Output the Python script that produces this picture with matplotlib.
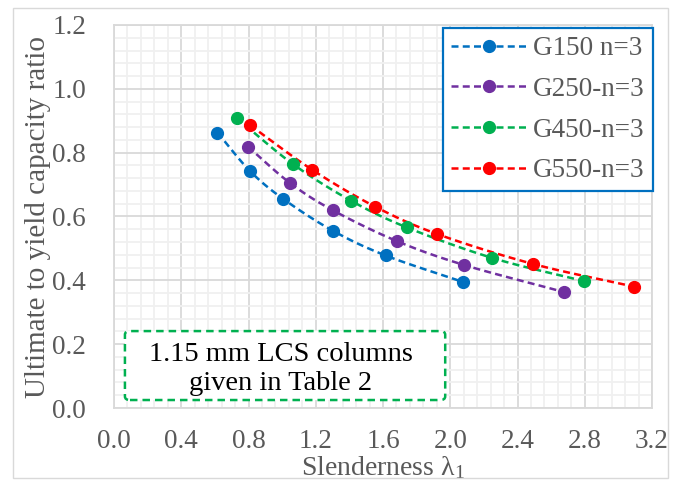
import numpy as np
import matplotlib
matplotlib.use("Agg")
from matplotlib import pyplot as plt
from matplotlib.patches import FancyBboxPatch, Rectangle
from matplotlib.ticker import MultipleLocator

plt.rcParams['font.family'] = ['Liberation Serif', 'DejaVu Serif']
plt.rcParams['mathtext.fontset'] = 'custom'
plt.rcParams['mathtext.rm'] = 'Liberation Serif'
plt.rcParams['mathtext.it'] = 'Liberation Serif:italic'

# slenderness vs ultimate/yield capacity ratio, 1.15 mm LCS columns
g150_x = [0.615, 0.810, 1.007, 1.303, 1.615, 2.074]
g150_y = [0.863, 0.742, 0.655, 0.555, 0.478, 0.395]
g250_x = [0.796, 1.047, 1.300, 1.682, 2.083, 2.678]
g250_y = [0.819, 0.705, 0.620, 0.523, 0.448, 0.363]
g450_x = [0.730, 1.065, 1.408, 1.741, 2.251, 2.798]
g450_y = [0.908, 0.764, 0.650, 0.566, 0.470, 0.397]
g550_x = [0.809, 1.180, 1.553, 1.923, 2.495, 3.094]
g550_y = [0.886, 0.746, 0.631, 0.545, 0.451, 0.380]

labels = ["G150 n=3", "G250-n=3", "G450-n=3", "G550-n=3"]
colors = ["#0070C0", "#7030A0", "#00B050", "#FF0000"]
grey = "#595959"


def smooth(x, y, n=20):
    # Catmull-Rom curve through the points (like a smoothed line)
    p = np.column_stack([x, y])
    p = np.vstack([2 * p[0] - p[1], p, 2 * p[-1] - p[-2]])
    t = np.linspace(0, 1, n)[:, None]
    out = []
    for i in range(1, len(p) - 2):
        p0, p1, p2, p3 = p[i - 1], p[i], p[i + 1], p[i + 2]
        seg = 0.5 * ((2 * p1) + (-p0 + p2) * t
                     + (2 * p0 - 5 * p1 + 4 * p2 - p3) * t ** 2
                     + (-p0 + 3 * p1 - 3 * p2 + p3) * t ** 3)
        out.append(seg if i == 1 else seg[1:])
    out = np.vstack(out)
    return out[:, 0], out[:, 1]


fig = plt.figure(figsize=(6.75, 4.86), dpi=100)
ax = fig.add_axes([114 / 675, 78 / 486, 538 / 675, 383 / 486])

# light outer border of the chart area
fig.patches.append(Rectangle((13 / 675, 8 / 486), 655 / 675, 470 / 486,
                             transform=fig.transFigure, fill=False,
                             edgecolor="#D9D9D9", linewidth=1.0))

series = [(g150_x, g150_y), (g250_x, g250_y), (g450_x, g450_y), (g550_x, g550_y)]
for (xs, ys), lab, c in zip(series, labels, colors):
    sx, sy = smooth(xs, ys)
    ax.plot(sx, sy, color=c, linewidth=1.8, dashes=(2.8, 1.7), zorder=3)
    ax.plot(xs, ys, 'o', color=c, markersize=8.5, zorder=4)
    # legend proxy
    ax.plot([], [], color=c, linewidth=1.8, dashes=(2.8, 1.7), marker='o',
            markersize=8.5, label=lab)

ax.set_xlim(0, 3.2)
ax.set_ylim(0, 1.2)
ax.xaxis.set_major_locator(MultipleLocator(0.4))
ax.xaxis.set_minor_locator(MultipleLocator(0.08))
ax.yaxis.set_major_locator(MultipleLocator(0.2))
ax.yaxis.set_minor_locator(MultipleLocator(0.04))
ax.xaxis.set_major_formatter(lambda v, p: f"{v:.1f}")
ax.yaxis.set_major_formatter(lambda v, p: f"{v:.1f}")

ax.grid(which='minor', color="#F0F0F0", linewidth=1.3)
ax.grid(which='major', color="#D9D9D9", linewidth=1.3)
ax.set_axisbelow(True)
for s in ax.spines.values():
    s.set_color("#D9D9D9")
    s.set_linewidth(1.3)

ax.tick_params(which='both', length=0, labelsize=19.5, labelcolor=grey)
ax.tick_params(axis='x', pad=15)
ax.tick_params(axis='y', pad=20)

ax.set_xlabel(r"Slenderness λ$_{\mathrm{1}}$", fontsize=20, color=grey, labelpad=0)
ax.set_ylabel("Ultimate to yield capacity ratio", fontsize=21, color=grey, labelpad=1)

leg = ax.legend(loc='upper right', bbox_to_anchor=(1.002, 0.992), fontsize=19.5,
                labelcolor=grey, frameon=True, fancybox=False,
                handlelength=2.8, handletextpad=0.25, labelspacing=0.58,
                borderpad=0.3, borderaxespad=0)
leg.get_frame().set_edgecolor("#0070C0")
leg.get_frame().set_linewidth(1.6)
leg.get_frame().set_alpha(1)

# note box in the lower left corner
box = FancyBboxPatch((0.065, 0.025), 1.905, 0.216,
                     boxstyle="round,pad=0,rounding_size=0.03",
                     mutation_aspect=0.375,
                     facecolor="white", edgecolor="#00B050",
                     linewidth=1.8, linestyle=(0, (3, 2)), zorder=5)
ax.add_patch(box)
ax.text(0.99, 0.122, "1.15 mm LCS columns\ngiven in Table 2", ha='center',
        va='center', fontsize=20.5, color="black", linespacing=1.25, zorder=6)

fig.savefig("out.png", dpi=100)
